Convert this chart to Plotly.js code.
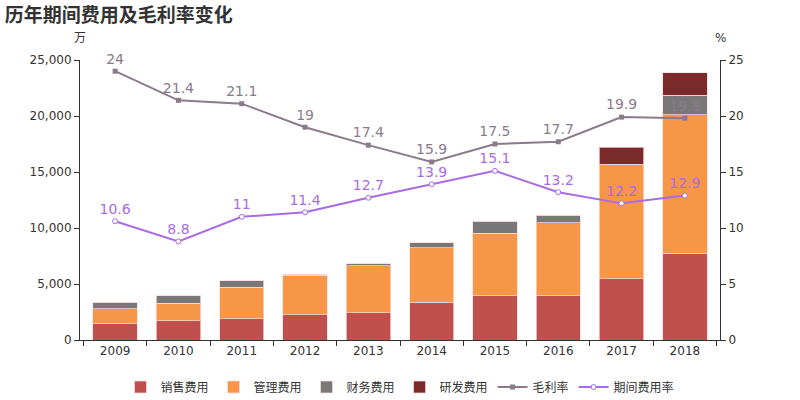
<!DOCTYPE html>
<html><head><meta charset="utf-8">
<script src="https://cdn.plot.ly/plotly-3.0.1.min.js"></script>
<style>html,body{margin:0;padding:0;background:#fff}#chart{width:800px;height:400px}</style>
</head><body><div id="chart"></div>
<script>
const years = ['2009','2010','2011','2012','2013','2014','2015','2016','2017','2018'];
const salesExp = [1430,1720,1900,2260,2440,3390,3960,3930,5480,7740];
const mgmtExp = [1370,1580,2800,3540,4200,4850,5590,6540,10170,12360];
const finExp = [570,660,600,90,150,450,1050,660,50,1750];
const rdExp = [0,0,0,0,0,0,0,0,1500,1990];
const grossMargin = [24,21.4,21.1,19,17.4,15.9,17.5,17.7,19.9,19.8];
const periodRate = [10.6,8.8,11,11.4,12.7,13.9,15.1,13.2,12.2,12.9];

const font = "'DejaVu Sans', 'Noto Sans CJK SC', sans-serif";
const barLine = {color:'rgba(255,220,220,0.7)', width:1};
const traces = [
  {type:'bar', name:'销售费用', x:years, y:salesExp, marker:{color:'#C0504D', line:barLine}, width:0.7},
  {type:'bar', name:'管理费用', x:years, y:mgmtExp, marker:{color:'#F79646', line:barLine}, width:0.7},
  {type:'bar', name:'财务费用', x:years, y:finExp, marker:{color:'#787878', line:barLine}, width:0.7},
  {type:'bar', name:'研发费用', x:years, y:rdExp, marker:{color:'#7B2A2C', line:barLine}, width:0.7},
  {type:'scatter', mode:'lines+markers+text', name:'毛利率', x:years, y:grossMargin, yaxis:'y2', cliponaxis:false,
   line:{color:'#8B7A8B', width:2}, marker:{symbol:'square', size:5, color:'#8B7A8B'},
   text:grossMargin.map(String), textposition:'top center', textfont:{size:14, color:'#8B7A8B', family:font}},
  {type:'scatter', mode:'lines+markers+text', name:'期间费用率', x:years, y:periodRate, yaxis:'y2', cliponaxis:false,
   line:{color:'#A86BE6', width:2}, marker:{symbol:'circle', size:5, color:'#fff', line:{color:'#A86BE6', width:1}},
   text:periodRate.map(String), textposition:'top center', textfont:{size:14, color:'#A86BE6', family:font}}
];
const layout = {
  width:800, height:400,
  margin:{l:80, r:80, t:60, b:60, autoexpand:false},
  barmode:'stack',
  font:{family:font, size:12, color:'#333'},
  paper_bgcolor:'#fff', plot_bgcolor:'#fff',
  title:{text:'<b>历年期间费用及毛利率变化</b>', x:0.006, xanchor:'left', y:0.962, yanchor:'middle', font:{size:19, color:'#333', family:"'Noto Sans CJK SC', sans-serif"}},
  xaxis:{type:'category', automargin:false, showline:true, linecolor:'#333', ticks:'outside', tickson:'boundaries', ticklen:5, tickcolor:'#333', showgrid:false, tickfont:{size:12}},
  yaxis:{range:[0,25000], automargin:false, dtick:5000, tickformat:',d', showline:true, linecolor:'#333', ticks:'outside', ticklen:5, tickcolor:'#333', showgrid:false, zeroline:false, tickfont:{size:12}},
  yaxis2:{range:[0,25], automargin:false, dtick:5, overlaying:'y', side:'right', showline:true, linecolor:'#333', ticks:'outside', ticklen:5, tickcolor:'#333', showgrid:false, zeroline:false, tickfont:{size:12}},
  legend:{orientation:'h', x:0.5, xref:'container', xanchor:'center', y:0.0325, yref:'container', yanchor:'middle', font:{size:12, color:'#333'}, traceorder:'normal'},
  showlegend:true,
  annotations:[
    {text:'万', xref:'paper', yref:'paper', x:0, y:1, xanchor:'center', yanchor:'bottom', yshift:13, showarrow:false, font:{size:12, color:'#333'}},
    {text:'%', xref:'paper', yref:'paper', x:1, y:1, xanchor:'center', yanchor:'bottom', yshift:13, showarrow:false, font:{size:12, color:'#333'}}
  ]
};
Plotly.newPlot('chart', traces, layout, {displayModeBar:false, staticPlot:true});
</script></body></html>
